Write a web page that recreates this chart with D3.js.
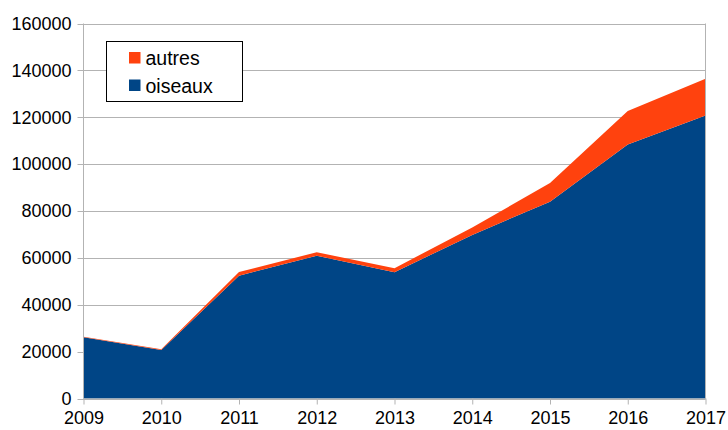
<!DOCTYPE html>
<html>
<head>
<meta charset="utf-8">
<script src="https://cdn.jsdelivr.net/npm/d3@7"></script>
<style>
  body { margin: 0; background: #fff; }
  svg { display: block; font-family: "Liberation Sans", Arial, sans-serif; }
</style>
</head>
<body>
<div id="container"></div>
<script>
const years = [2009, 2010, 2011, 2012, 2013, 2014, 2015, 2016, 2017];
const oiseaux = [26100, 20700, 52400, 60900, 53900, 69800, 84000, 108400, 120700];
const autres = [200, 300, 1600, 1500, 1700, 3200, 7900, 14300, 15700];
const yTicks = [0, 20000, 40000, 60000, 80000, 100000, 120000, 140000, 160000];

const w = 728;
const h = 430;
const padLeft = 83.5, padRight = 705.5, padTop = 23.5, padBottom = 398.5;
const grid = '#b3b3b3';

const svg = d3.select('#container')
  .append('svg')
  .attr('width', w)
  .attr('height', h);

const xScale = d3.scaleLinear()
  .domain([d3.min(years), d3.max(years)])
  .range([padLeft, padRight]);

const yScale = d3.scaleLinear()
  .domain([0, 160000])
  .range([padBottom, padTop]);

// gridlines
svg.append('g')
  .selectAll('line')
  .data(yTicks)
  .join('line')
  .attr('x1', padLeft - 6)
  .attr('x2', padRight)
  .attr('y1', d => Math.round(yScale(d)) + 0.5)
  .attr('y2', d => Math.round(yScale(d)) + 0.5)
  .attr('stroke', grid);

// stacked areas
const rows = years.map((y, i) => ({ year: y, oiseaux: oiseaux[i], autres: autres[i] }));
const stack = d3.stack().keys(['oiseaux', 'autres'])(rows);
const colors = { oiseaux: '#004586', autres: '#ff420e' };

const area = d3.area()
  .x(d => xScale(d.data.year))
  .y0(d => yScale(d[0]))
  .y1(d => yScale(d[1]));

svg.append('g')
  .selectAll('path')
  .data(stack)
  .join('path')
  .attr('d', area)
  .attr('fill', d => colors[d.key]);

// axes lines
svg.append('line')
  .attr('x1', padLeft).attr('x2', padLeft)
  .attr('y1', padTop).attr('y2', padBottom)
  .attr('stroke', grid);
svg.append('line')
  .attr('x1', padRight).attr('x2', padRight)
  .attr('y1', padTop).attr('y2', padBottom)
  .attr('stroke', grid);

const xAxis = d3.axisBottom(xScale)
  .tickValues(years)
  .tickFormat(d3.format('d'))
  .tickSize(6)
  .tickSizeOuter(0)
  .tickPadding(7);
const gx = svg.append('g')
  .attr('transform', 'translate(0,' + padBottom + ')')
  .call(xAxis);
gx.select('.domain').attr('stroke', grid);
gx.selectAll('.tick line').attr('stroke', grid);
gx.selectAll('text')
  .attr('fill', '#000')
  .style('font-size', '18px')
  .style('font-family', '"Liberation Sans", Arial, sans-serif');

const yAxis = d3.axisLeft(yScale)
  .tickValues(yTicks)
  .tickFormat(d3.format('d'))
  .tickSize(0)
  .tickPadding(12);
const gy = svg.append('g')
  .attr('transform', 'translate(' + padLeft + ',0)')
  .call(yAxis);
gy.select('.domain').remove();
gy.selectAll('text')
  .attr('fill', '#000')
  .style('font-size', '18px')
  .style('font-family', '"Liberation Sans", Arial, sans-serif');

// legend
const legend = svg.append('g');
legend.append('rect')
  .attr('x', 106.5).attr('y', 41.5)
  .attr('width', 136).attr('height', 60)
  .attr('fill', '#fff')
  .attr('stroke', '#000');

const legendItems = [
  { name: 'autres', color: colors.autres },
  { name: 'oiseaux', color: colors.oiseaux }
];
legend.selectAll('g.item')
  .data(legendItems)
  .join('g')
  .attr('class', 'item')
  .attr('transform', (d, i) => 'translate(129,' + (52 + i * 27.5) + ')')
  .each(function (d) {
    const g = d3.select(this);
    g.append('rect').attr('width', 11.5).attr('height', 11.5).attr('fill', d.color);
    g.append('text')
      .attr('x', 16.5).attr('y', 13)
      .style('font-size', '19.5px')
      .attr('fill', '#000')
      .text(d.name);
  });
</script>
</body>
</html>
